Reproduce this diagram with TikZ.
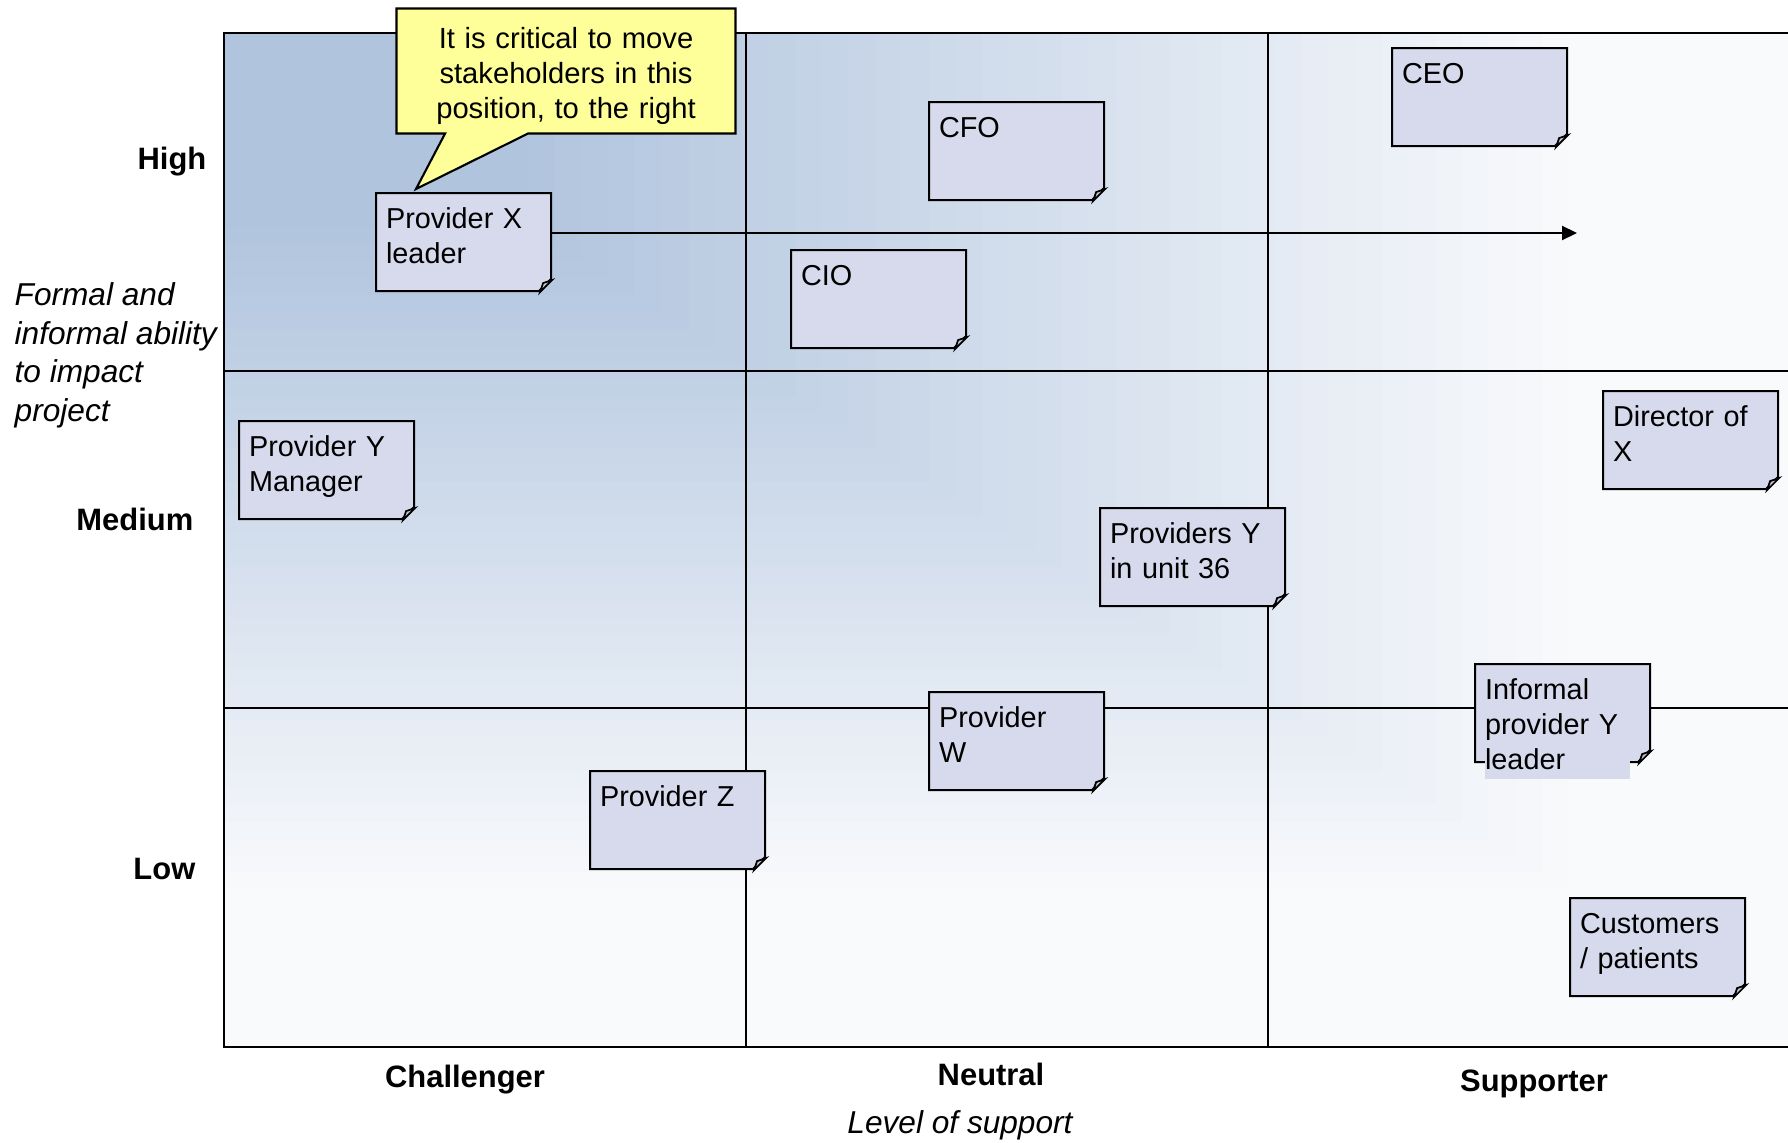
\documentclass[tikz,border=0pt]{standalone}
\usepackage{fontspec}
\setmainfont{Liberation Sans}
\usetikzlibrary{shapes.misc,shapes.callouts,arrows.meta,calc}
\definecolor{gridblue}{RGB}{176,196,222}
\definecolor{gridpale}{RGB}{249,250,252}
\definecolor{notefill}{RGB}{215,218,236}
\definecolor{foldgray}{RGB}{196,198,212}
\definecolor{calloutfill}{RGB}{255,255,153}
\begin{document}
\begin{tikzpicture}[x=0.1mm,y=-0.1mm,
  gridline/.style={line width=0.6pt},
  note/.style={chamfered rectangle,chamfered rectangle corners=south east,
    chamfered rectangle xsep=0.6mm,chamfered rectangle ysep=0.6mm,
    draw,line width=0.6pt,fill=notefill,anchor=north west,
    minimum width=17.5mm,minimum height=9.8mm,inner xsep=0pt,inner ysep=0pt,
    text width=15.5mm,text height=2mm,text depth=4.7mm,align=left,
    font=\fontsize{8.2}{10}\selectfont},
  fold/.style={draw,line width=0.5pt,fill=foldgray},
  level/.style={anchor=east,inner sep=0pt,font=\fontsize{8.8}{10}\selectfont\bfseries},
  stance/.style={inner sep=0pt,font=\fontsize{8.8}{10}\selectfont\bfseries},
  axis/.style={inner sep=0pt,align=left,font=\fontsize{9}{11}\selectfont\itshape}]
\useasboundingbox (0,0) rectangle (1788,1142);
% background of the grid, fading from the top left corner
\begin{scope}
\clip (224,33) rectangle (1788,1047);
\fill[gridpale] (224,33) rectangle (1788,1047);
\foreach \k [evaluate=\k as \p using 100*\k/40,
             evaluate=\k as \t using 0.3+(40-\k)*1.05/40] in {0,...,40}
  \fill[gridblue!\p!gridpale] (224,33) rectangle ++(1016*\t,647*\t);
\end{scope}
\draw[gridline] (1788,33) -- (224,33) -- (224,1047) -- (1788,1047);
\draw[gridline] (746,33) -- (746,1047);
\draw[gridline] (1268,33) -- (1268,1047);
\draw[gridline] (224,371) -- (1788,371);
\draw[gridline] (224,708) -- (1788,708);
% stakeholders
\node[note] (pxl) at (375,192) {Provider X\\leader};
\node[note] (cfo) at (928,101) {CFO};
\node[note] (ceo) at (1391,47) {CEO};
\node[note] (cio) at (790,249) {CIO};
\node[note] (pym) at (238,420) {Provider Y\\Manager};
\node[note] (dox) at (1602,390) {Director of\\X};
\node[note,minimum width=18.5mm,text width=16.5mm] (pyu) at (1099,507) {Providers Y\\in unit 36};
\node[note] (pw) at (928,691) {Provider\\W};
\node[note] (ipy) at (1474,663) {Informal\\provider Y\\\leavevmode\rlap{\textcolor{notefill}{\rule[-0.9mm]{14.5mm}{3.5mm}}}leader};
\node[note] (pz) at (589,770) {Provider Z};
\node[note] (cust) at (1569,897) {Customers\\/ patients};
\foreach \n in {pxl,cfo,ceo,cio,pym,dox,pyu,pw,ipy,pz,cust} {
  \coordinate (c) at (\n.north east |- \n.south west);
  \draw[fold] ($(c)+(0,-12)$) -- ($(c)+(-9,-9)$) -- ($(c)+(-12,0)$) -- cycle;
}
% callout and move
\node[rectangle callout,draw,line width=0.6pt,fill=calloutfill,
  minimum width=33.9mm,minimum height=12.5mm,inner xsep=0pt,
  text width=33mm,text height=2.2mm,text depth=6.7mm,align=center,
  font=\fontsize{8.3}{10}\selectfont,callout pointer width=8.3mm,
  callout absolute pointer={($(pxl.north west)+(41,-3)$)}] (hint) at (566,71)
  {It is critical to move\\stakeholders in this\\position, to the right};
\coordinate (goal) at (1577,233);
\draw[line width=0.6pt,-{Triangle[length=1.5mm,width=1.4mm]}] (pxl.east |- goal) -- (goal);
% axes
\node[level] (high) at (207,162) {High};
\node[level] (medium) at (194,519) {Medium};
\node[level] (low) at (196,869) {Low};
\node[axis,anchor=north west] (impact) at (14,282) {Formal and\\informal ability\\to impact\\project};
\node[stance] (chal) at (465,1080) {Challenger};
\node[stance] (neut) at (991,1074) {Neutral};
\node[stance] (supp) at (1534,1084) {Supporter};
\node[axis] (support) at (960,1125) {Level of support};
\end{tikzpicture}
\end{document}
